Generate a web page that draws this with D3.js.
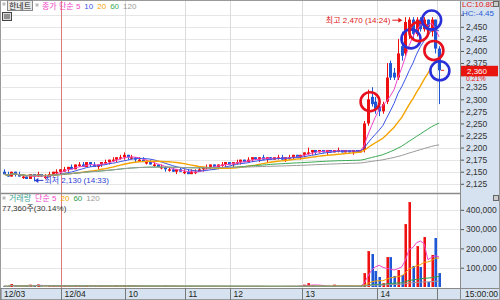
<!DOCTYPE html>
<html lang="ko">
<head>
<meta charset="utf-8">
<title>한네트 3분봉</title>
<style>
  html,body{margin:0;padding:0;background:#fff;}
  svg{display:block;font-family:"Liberation Sans","Noto Sans CJK KR",sans-serif;}
  .ax text{font-size:8.5px;fill:#333;font-family:"Liberation Sans",sans-serif;}
  .ax path{display:none;}
  .ax line{stroke:#555;}
</style>
</head>
<body>
<svg id="chart" width="500" height="300"></svg>
<script src="https://cdn.jsdelivr.net/npm/d3@7/dist/d3.min.js"></script>
<script>
// ---- data (3-minute candles, 12/03 tail + 12/04) ----
const open  = [2150,2145,2140,2150,2145,2140,2140,2135,2145,2140,2145,2140,2140,2145,2150,2150,
  2150,2155,2160,2155,2165,2165,2160,2170,2165,2160,2165,2170,2170,2175,2175,2180,2180,
  2185,2180,2180,2175,2175,2170,2170,2165,2165,2160,2160,2155,2155,2150,2155,2150,
  2150,2145,2150,2150,2155,2160,2160,2165,2160,2165,2165,2170,
  2165,2170,2170,2175,2170,2175,2180,2175,2180,2175,2180,2175,2180,2180,2175,2180,2180,2185,2180,
  2185,2190,2190,2195,2190,2195,2190,2195,2190,2195,2195,2190,2195,2190,2195,2190,
  2195,2250,2305,2295,2285,2275,2295,2375,2355,2345,2410,2395,2440,2465,2435,2465,2445,2465,2440,2465,2405];
const high  = [2155,2150,2150,2150,2150,2145,2140,2145,2145,2150,2145,2145,2150,2150,2155,2155,
  2160,2160,2165,2165,2170,2170,2170,2170,2170,2165,2170,2175,2175,2180,2180,2185,2190,
  2185,2185,2180,2180,2180,2175,2175,2170,2165,2165,2160,2160,2160,2155,2160,2155,
  2155,2155,2155,2160,2160,2165,2165,2165,2165,2170,2170,2170,
  2170,2175,2175,2175,2180,2180,2180,2180,2185,2180,2180,2180,2185,2185,2180,2185,2185,2185,2185,
  2190,2200,2195,2195,2195,2195,2195,2195,2195,2200,2195,2195,2195,2195,2195,2195,
  2255,2320,2325,2305,2290,2295,2375,2380,2365,2425,2440,2470,2470,2470,2470,2470,2470,2465,2470,2465,2410];
const low   = [2145,2140,2140,2140,2140,2135,2135,2135,2130,2140,2140,2135,2140,2140,2145,2145,
  2150,2150,2155,2155,2160,2160,2160,2160,2160,2155,2160,2165,2165,2170,2170,2175,2175,
  2175,2175,2170,2170,2170,2165,2165,2160,2160,2155,2150,2150,2150,2145,2150,2145,
  2145,2145,2145,2150,2150,2155,2155,2160,2155,2160,2160,2165,
  2160,2165,2165,2170,2170,2170,2175,2170,2175,2170,2175,2175,2175,2175,2170,2175,2175,2180,2175,
  2180,2185,2185,2185,2190,2190,2185,2190,2190,2190,2190,2190,2190,2185,2190,2190,
  2190,2245,2285,2270,2265,2270,2290,2340,2340,2340,2380,2390,2425,2425,2430,2440,2440,2445,2430,2395,2290];
const close = [2145,2140,2150,2145,2140,2140,2135,2145,2140,2145,2140,2140,2145,2150,2150,2155,
  2155,2160,2155,2165,2165,2160,2170,2165,2160,2165,2170,2170,2175,2175,2180,2180,2185,
  2180,2180,2175,2175,2170,2170,2165,2165,2160,2160,2155,2155,2150,2155,2150,2150,
  2145,2150,2150,2155,2160,2160,2165,2160,2165,2165,2170,2165,
  2170,2170,2175,2170,2175,2180,2175,2180,2175,2180,2175,2180,2180,2175,2180,2180,2185,2180,2185,
  2190,2190,2195,2190,2195,2190,2195,2190,2195,2195,2190,2195,2190,2195,2190,2195,
  2250,2300,2290,2280,2275,2290,2345,2345,2345,2395,2390,2460,2465,2435,2465,2445,2465,2450,2465,2405,2360];
const volume = [4000,3000,15000,3000,2000,4000,5000,12000,9000,13000,3000,2000,4000,5000,3000,8000,
  6000,4000,3000,9000,5000,4000,7000,3000,4000,3000,6000,4000,5000,3000,8000,4000,10000,
  5000,3000,4000,2000,3000,2000,4000,3000,5000,3000,6000,2000,3000,4000,3000,2000,
  5000,4000,2000,3000,4000,3000,5000,2000,3000,2000,4000,3000,
  3000,2000,4000,2000,5000,4000,2000,3000,2000,3000,2000,4000,2000,3000,5000,3000,4000,2000,6000,
  12000,20000,9000,5000,3000,4000,3000,2000,12000,4000,3000,4000,3000,5000,4000,6000,
  72000,186000,171000,83000,52000,20000,155000,155000,57000,88000,62000,326000,440000,109000,212000,104000,259000,26000,166000,254000,72000];

const timeLabels = ['12/03','12/04','10','11','12','13','14',''];
const timeIndex  = [0,16,33,49,61,80,100,116];
const priceTicks = d3.range(2125, 2476, 25);
const volTicks   = [100000,200000,300000,400000];
const maPeriods  = [5,10,20,60,120];
const maColors   = ['#f046c8','#3a55e6','#f5a300','#3aaa55','#9a9a9a'];
const volMaPeriods = [5,20,60,120];
const volMaColors  = ['#f046c8','#f5a300','#2ca048','#9a9a9a'];
// highlight circles (candle index, price)
const markIdx   = [97.6,108.5,110.6,114.0,114.6,116.2];
const markPrice = [2295,2425,2440,2464,2401,2359];
const markColor = ['#e8101c','#2a30d8','#e8101c','#2a30d8','#e8101c','#2a30d8'];

// ---- setup ----
const N = close.length;
const svg = d3.select('#chart');
const UP = '#ee1111', DOWN = '#1f56d6';
const panelBg = '#d6e2ef';

const x = d3.scaleBand().domain(d3.range(N)).range([2,441]).paddingInner(0.22).paddingOuter(0.11);
const xl = d3.scaleLinear().domain([0,N]).range([2,441]);
const xc = i => xl(i + 0.5);
const y = d3.scaleLinear().domain([2108,2489]).range([192,8]);
const vy = d3.scaleLinear().domain([0,482000]).range([287,194]);

const sma = (arr,n) => arr.map((_,i) => d3.mean(arr.slice(Math.max(0,i-n+1), i+1)));

// panels
svg.append('rect').attr('width',500).attr('height',300).attr('fill','#fff');
svg.append('rect').attr('x',460).attr('y',0).attr('width',40).attr('height',300).attr('fill',panelBg);
svg.append('rect').attr('x',0).attr('y',288).attr('width',500).attr('height',12).attr('fill',panelBg);

// gridlines
const grid = svg.append('g');
grid.selectAll('line.hp').data(priceTicks).join('line')
  .attr('x1',2).attr('x2',460).attr('y1',d=>Math.round(y(d))+0.5).attr('y2',d=>Math.round(y(d))+0.5)
  .attr('stroke','#e6e6e6');
grid.selectAll('line.hv').data(volTicks).join('line')
  .attr('x1',2).attr('x2',460).attr('y1',d=>Math.round(vy(d))+0.5).attr('y2',d=>Math.round(vy(d))+0.5)
  .attr('stroke','#e6e6e6');
grid.selectAll('line.vt').data(timeIndex.slice(2)).join('line')
  .attr('x1',d=>Math.round(x(d))-0.5).attr('x2',d=>Math.round(x(d))-0.5)
  .attr('y1',0).attr('y2',288).attr('stroke','#dcdcdc');
grid.append('line').attr('x1',Math.round(x(timeIndex[1]))-0.5).attr('x2',Math.round(x(timeIndex[1]))-0.5)
  .attr('y1',0).attr('y2',288).attr('stroke','#e07a7a');

// ---- candles ----
const cg = svg.append('g');
const idx = d3.range(N);
const col = i => close[i] >= open[i] ? UP : DOWN;
cg.selectAll('line').data(idx).join('line')
  .attr('x1',i=>Math.round(xc(i))+0.5).attr('x2',i=>Math.round(xc(i))+0.5)
  .attr('y1',i=>y(high[i])).attr('y2',i=>y(low[i])).attr('stroke',col);
cg.selectAll('rect').data(idx).join('rect')
  .attr('x',i=>Math.round(xc(i))-1).attr('width',3)
  .attr('y',i=>y(Math.max(open[i],close[i])))
  .attr('height',i=>Math.max(1.5, Math.abs(y(open[i])-y(close[i]))))
  .attr('fill',col);

// price moving averages
const line = d3.line().x((d,i)=>xc(i)).y(d=>y(d));
maPeriods.forEach((p,k)=>{
  svg.append('path').datum(sma(close,p)).attr('d',line).attr('fill','none')
    .attr('stroke',maColors[k]).attr('stroke-width',p===20?1.4:1);
});

// ---- volume ----
const vg = svg.append('g');
vg.selectAll('rect.b').data(idx).join('rect')
  .attr('x',i=>Math.round(xc(i))-1).attr('width',3)
  .attr('y',i=>vy(volume[i])).attr('height',i=>vy(0)-vy(volume[i]))
  .attr('fill',col);
vg.selectAll('rect.h').data(idx).join('rect')
  .attr('x',i=>Math.round(xc(i))-1).attr('width',1)
  .attr('y',i=>vy(volume[i])).attr('height',i=>vy(0)-vy(volume[i]))
  .attr('fill',i=>close[i]>=open[i]?'#ff7a7a':'#7fa4ee');
const vline = d3.line().x((d,i)=>xc(i)).y(d=>vy(d));
volMaPeriods.forEach((p,k)=>{
  svg.append('path').datum(sma(volume,p)).attr('d',vline).attr('fill','none')
    .attr('stroke',volMaColors[k]).attr('stroke-width',1);
});

// ---- highlight circles ----
svg.append('g').selectAll('circle').data(markIdx).join('circle')
  .attr('cx',d=>xl(d+0.5)).attr('cy',(d,i)=>y(markPrice[i])).attr('r',9.5)
  .attr('fill','none').attr('stroke',(d,i)=>markColor[i]).attr('stroke-width',2.6);

// ---- hi / lo annotations ----
const hiI = d3.maxIndex(high), loI = d3.minIndex(low);
const hiX = xc(hiI) - 3, hiY = y(high[hiI]) + 3;
svg.append('line').attr('x1',hiX-10).attr('x2',hiX-2).attr('y1',hiY).attr('y2',hiY).attr('stroke','#e01818');
svg.append('path').attr('d',`M${hiX},${hiY} l-4,-2.5 v5 z`).attr('fill','#e01818');
svg.append('text').attr('x',hiX-12).attr('y',hiY+3).attr('text-anchor','end')
  .attr('font-size',8).attr('fill','#e01818').text('최고 2,470 (14:24)');
const loX = xc(loI) + 0.5, loY = y(low[loI]) - 1;
svg.append('path').attr('d',`M${loX},${loY} l4,-2.5 v5 z`).attr('fill','#2a3cd0');
svg.append('line').attr('x1',loX+2).attr('x2',loX+9).attr('y1',loY).attr('y2',loY).attr('stroke','#2a3cd0');
svg.append('text').attr('x',loX+10).attr('y',loY+3)
  .attr('font-size',8).attr('fill','#2a3cd0').text('최저 2,130 (14:33)');

// ---- axes ----
const last = close[N-1];
// labels hidden by the LC/HC block and the price box are left out, ticks kept
const hidden = v => y(v) < 18 || Math.abs(y(v) - (y(last) + 4)) < 10;
svg.append('g').attr('class','ax').attr('transform','translate(460,0)')
  .call(d3.axisRight(y).tickValues(priceTicks).tickSize(4).tickPadding(2)
    .tickFormat(v => hidden(v) ? '' : d3.format(',')(v)));
svg.append('g').attr('class','ax').attr('transform','translate(460,0)')
  .call(d3.axisRight(vy).tickValues(volTicks).tickSize(4).tickPadding(2).tickFormat(d3.format(',')));

// current price box
svg.append('rect').attr('x',460).attr('y',y(last)-4.5).attr('width',38).attr('height',10.5).attr('fill','#e8140e');
svg.append('text').attr('x',467).attr('y',y(last)+3.5).attr('font-size',8).attr('fill','#fff').text(d3.format(',')(last));
svg.append('text').attr('x',466).attr('y',y(last)+11).attr('font-size',7).attr('fill','#e8140e').text('0.21%');
svg.append('line').attr('x1',xc(N-1)+2).attr('x2',xc(N-1)+5).attr('y1',y(last)).attr('y2',y(last)).attr('stroke','#e8140e');

// LC / HC
svg.append('text').attr('x',462).attr('y',7).attr('font-size',8).attr('fill','#e8140e').text('LC:10.80');
svg.append('text').attr('x',462).attr('y',16).attr('font-size',8).attr('fill','#2a5ad8').text('HC:-4.45');

// separators & borders
svg.append('line').attr('x1',0).attr('x2',460).attr('y1',193.5).attr('y2',193.5).attr('stroke','#8a8a8a').attr('stroke-width',1.5);
svg.append('line').attr('x1',460.5).attr('x2',460.5).attr('y1',0).attr('y2',300).attr('stroke','#8a8a8a');
svg.append('line').attr('x1',0).attr('x2',500).attr('y1',288.5).attr('y2',288.5).attr('stroke','#8a8a8a');
svg.append('rect').attr('x',0.5).attr('y',0.5).attr('width',499).attr('height',299).attr('fill','none').attr('stroke','#9a9a9a');

// small panel icons
[[493,1],[493,195]].forEach(([ix,iy])=>{
  svg.append('rect').attr('x',ix+0.5).attr('y',iy+0.5).attr('width',5).attr('height',5).attr('fill','#ccc').attr('stroke','#666');
});

// ---- time axis ----
const tg = svg.append('g');
timeIndex.forEach((ti,k)=>{
  const tx = k===0 ? 1 : Math.round(x(ti)) - 0.5;
  tg.append('line').attr('x1',tx).attr('x2',tx).attr('y1',288).attr('y2',300).attr('stroke','#777');
  tg.append('text').attr('x',tx+3).attr('y',297).attr('font-size',8.5).attr('fill','#222').text(timeLabels[k]);
});
tg.append('text').attr('x',465).attr('y',297).attr('font-size',8.5).attr('fill','#222').text('15:00:00');

// legend text laid out left to right, measured
function flow(g, items, colors, x0, yb, gap){
  let cx = x0;
  items.forEach((t,k)=>{
    const el = g.append('text').attr('x',cx).attr('y',yb).attr('fill',colors[k]).text(t);
    cx += el.node().getComputedTextLength() + gap;
  });
}

// ---- price legend ----
const lg = svg.append('g').attr('font-size',8);
lg.append('rect').attr('x',2.5).attr('y',2.5).attr('width',3).attr('height',3).attr('fill','#bbb');
lg.append('rect').attr('x',7.5).attr('y',0.5).attr('width',25).attr('height',10).attr('fill','#e8e8e8').attr('stroke','#888');
lg.append('text').attr('x',9).attr('y',8.5).attr('fill','#222').text('한네트');
lg.append('rect').attr('x',35.5).attr('y',3.5).attr('width',3).attr('height',3).attr('fill','#bbb');
flow(lg, ['종가 단순 5','10','20','60','120'], maColors, 42, 8.5, 4);
// tool icon
lg.append('rect').attr('x',2.5).attr('y',12.5).attr('width',9).attr('height',8).attr('fill','#ddd').attr('stroke','#444');
[5,7,9].forEach(px=>lg.append('line').attr('x1',px).attr('x2',px).attr('y1',14).attr('y2',19).attr('stroke','#444'));

// ---- volume legend ----
const vlg = svg.append('g').attr('font-size',8);
vlg.append('rect').attr('x',2.5).attr('y',196.5).attr('width',3).attr('height',3).attr('fill','#bbb');
flow(vlg, ['거래량','단순 5','20','60','120'], ['#3aa592'].concat(volMaColors), 9, 201, 4);
vlg.append('text').attr('x',2).attr('y',211).attr('fill','#333').text('77,360주(30.14%)');
</script>
</body>
</html>
